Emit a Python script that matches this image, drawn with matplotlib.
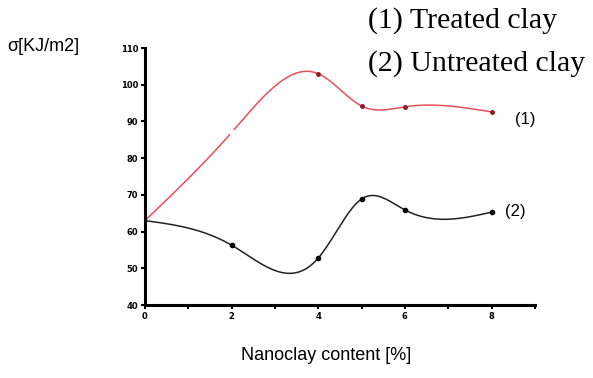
import numpy as np
import matplotlib
matplotlib.use("Agg")
import matplotlib.pyplot as plt

# values
content = [0, 2, 4, 5, 6, 8]
treated = [63, 87, 103, 94.2, 94, 92.6]
untreated = [63, 56.3, 52.8, 68.9, 65.9, 65.3]
xticks = list(range(0, 10))
xticklabels = ['0', '', '2', '', '4', '', '6', '', '8', '']
yticks = [40, 50, 60, 70, 80, 90, 100, 110]


def smooth(x, y, n=300):
    # natural cubic spline through the points (drawing only)
    x = np.asarray(x, float)
    y = np.asarray(y, float)
    k = len(x)
    h = np.diff(x)
    A = np.zeros((k, k))
    b = np.zeros(k)
    A[0, 0] = A[-1, -1] = 1
    for i in range(1, k - 1):
        A[i, i - 1] = h[i - 1]
        A[i, i] = 2 * (h[i - 1] + h[i])
        A[i, i + 1] = h[i]
        b[i] = 6 * ((y[i + 1] - y[i]) / h[i] - (y[i] - y[i - 1]) / h[i - 1])
    m = np.linalg.solve(A, b)
    xs = np.linspace(x[0], x[-1], n)
    idx = np.clip(np.searchsorted(x, xs) - 1, 0, k - 2)
    x0, x1 = x[idx], x[idx + 1]
    hh = x1 - x0
    t0, t1 = x1 - xs, xs - x0
    ys = (m[idx] * t0**3 + m[idx + 1] * t1**3) / (6 * hh) \
        + (y[idx] / hh - m[idx] * hh / 6) * t0 \
        + (y[idx + 1] / hh - m[idx + 1] * hh / 6) * t1
    return xs, ys


fig = plt.figure(figsize=(5.93, 3.78), dpi=100)
ax = fig.add_axes([0.2445, 0.193, 0.6575, 0.68])

xs, ys = smooth(content, treated)
ax.plot(xs, ys, color='#e8505a', lw=1.1, clip_on=False)
ax.plot(content[2:], treated[2:], 'o', color='#8b1a2a', ms=2.5, clip_on=False)
# small break in the red line at x=2
ax.plot([content[1]], [treated[1]], 'o', color='white', ms=3.5, clip_on=False)

xs, ys = smooth(content, untreated)
ax.plot(xs, ys, color='#222222', lw=1.1, clip_on=False)
ax.plot(content[1:], untreated[1:], 'o', color='black', ms=3, clip_on=False)

ax.set_xlim(0, 9)
ax.set_ylim(40, 110)
ax.set_xticks(xticks)
ax.set_xticklabels(xticklabels)
ax.set_yticks(yticks)
ax.set_yticklabels([str(v) for v in yticks])
for s in ['top', 'right']:
    ax.spines[s].set_visible(False)
for s in ['left', 'bottom']:
    ax.spines[s].set_linewidth(2.2)
ax.tick_params(direction='out', length=3, width=1.5, labelsize=6, pad=2)
for lab in ax.get_xticklabels() + ax.get_yticklabels():
    lab.set_fontweight('bold')

ax.text(8.55, 90.6, '(1)', fontsize=12, va='center', ha='left',
        family='Liberation Sans')
ax.text(8.3, 65.6, '(2)', fontsize=12, va='center', ha='left',
        family='Liberation Sans')

fig.text(0.013, 0.878, 'σ[KJ/m2]', fontsize=13, va='center', ha='left',
         family='Liberation Sans')
fig.text(0.55, 0.06, 'Nanoclay content [%]', fontsize=13, va='center',
         ha='center', family='Liberation Sans')
fig.text(0.62, 0.947, '(1) Treated clay', fontsize=21.5, va='center',
         ha='left', family='Liberation Serif')
fig.text(0.62, 0.833, '(2) Untreated clay', fontsize=21.5, va='center',
         ha='left', family='Liberation Serif')

fig.savefig('out.png', dpi=100)
